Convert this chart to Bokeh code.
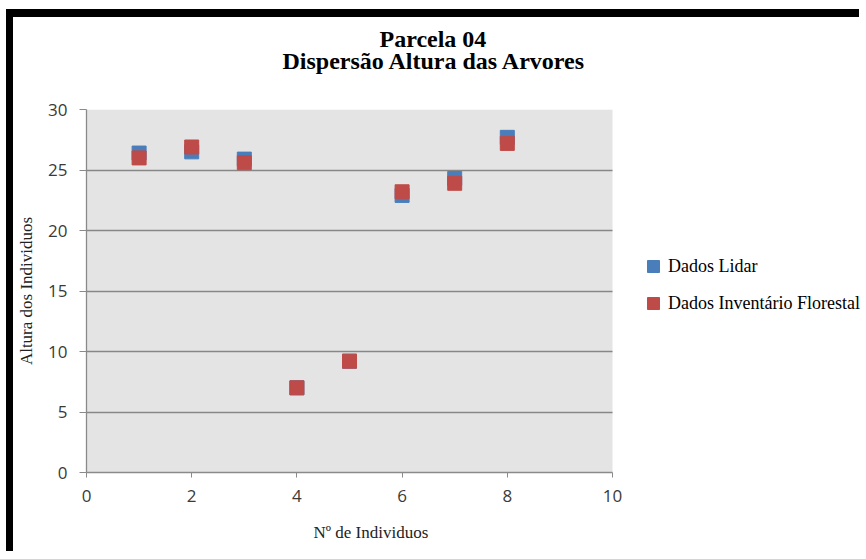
from bokeh.plotting import figure
from bokeh.models import Range1d, FixedTicker, Legend, LegendItem, Title, BoxAnnotation
from bokeh.embed import file_html
from bokeh.resources import INLINE

# Tree heights per individual in plot 04
individuos = [1, 2, 3, 4, 5, 6, 7, 8]
altura_lidar = [26.4, 26.5, 25.9, 7.0, 9.2, 22.9, 24.3, 27.7]
altura_inventario = [26.0, 26.9, 25.6, 7.0, 9.2, 23.2, 23.9, 27.2]

x_ticks = [0, 2, 4, 6, 8, 10]
y_ticks = [0, 5, 10, 15, 20, 25, 30]

titulo_1 = "Parcela 04"
titulo_2 = "Dispersão Altura das Arvores"
rotulo_x = "Nº de Individuos"
rotulo_y = "Altura dos Individuos"
serie_lidar = "Dados Lidar"
serie_inventario = "Dados Inventário Florestal"

SERIF = "Liberation Serif"
SANS = "Open Sans"

# Canvas geometry: the data frame runs to the right edge so the legend
# can sit beside the shaded plotting area.
W, H = 853, 542
BORDER_L, BORDER_T, BORDER_B = 73, 92, 87
PLOT_W = 526                      # width of the shaded area in pixels
FRAME_W = W - BORDER_L
x_end = x_ticks[-1] * FRAME_W / PLOT_W

p = figure(
    width=W, height=H,
    x_range=Range1d(x_ticks[0], x_end), y_range=Range1d(y_ticks[0], y_ticks[-1]),
    output_backend="svg", toolbar_location=None,
    min_border_left=BORDER_L, min_border_right=0,
    min_border_top=BORDER_T, min_border_bottom=BORDER_B,
)
# thick black frame on the top and left edges of the chart area
p.styles = {
    "margin": "9px 0 0 6px",
    "border-top": "8px solid black",
    "border-left": "7px solid black",
}

p.background_fill_color = "white"
p.border_fill_color = "white"
p.outline_line_color = None

# shaded plotting area
p.add_layout(BoxAnnotation(left=x_ticks[0], right=x_ticks[-1],
                           bottom=y_ticks[0], top=y_ticks[-1],
                           fill_color="#e4e4e4", fill_alpha=1,
                           line_color=None, level="image"))

p.xgrid.grid_line_color = None
ygrid = p.ygrid[0]
ygrid.grid_line_color = "#878787"
ygrid.grid_line_width = 1.3
ygrid.cross_bounds = (x_ticks[0], x_ticks[-1])

p.xaxis.ticker = FixedTicker(ticks=x_ticks)
p.yaxis.ticker = FixedTicker(ticks=y_ticks)
p.xaxis.bounds = (x_ticks[0], x_ticks[-1])
for ax in (p.xaxis[0], p.yaxis[0]):
    ax.axis_line_color = "#8a8a8a"
    ax.axis_line_width = 1.3
    ax.major_tick_line_color = "#8a8a8a"
    ax.major_tick_in = 0
    ax.minor_tick_line_color = None
    ax.major_label_text_font = SANS
    ax.major_label_text_font_size = "17px"
    ax.major_label_text_color = "#3a3a3a"
p.xaxis.major_tick_out = 5
p.yaxis.major_tick_out = 7
p.xaxis.major_label_standoff = 12
p.yaxis.major_label_standoff = 12

p.yaxis.axis_label = rotulo_y
p.yaxis.axis_label_text_font = SERIF
p.yaxis.axis_label_text_font_size = "17px"
p.yaxis.axis_label_text_font_style = "normal"
p.yaxis.axis_label_text_color = "#222222"
p.yaxis.axis_label_standoff = 9

r_lidar = p.scatter(individuos, altura_lidar, marker="square", size=14,
                    fill_color="#4a7ebb", line_color="#4a7ebb")
r_inv = p.scatter(individuos, altura_inventario, marker="square", size=14,
                  fill_color="#be4b48", line_color="#be4b48")

legend = Legend(
    items=[LegendItem(label=serie_lidar, renderers=[r_lidar]),
           LegendItem(label=serie_inventario, renderers=[r_inv])],
    location=(552, 154),
    glyph_width=30, glyph_height=30, spacing=7,
    label_standoff=0, padding=0, margin=0,
    border_line_color=None, background_fill_alpha=0,
    label_text_font=SERIF, label_text_font_size="18px",
    label_text_color="black",
)
p.add_layout(legend)

# Title block: a spacer next to the frame, then the two title lines
p.add_layout(Title(text=" ", text_font_size="1px", standoff=36), "above")
title_style = dict(text_font=SERIF, text_font_size="24px",
                   text_font_style="bold", text_color="black",
                   align="left", vertical_align="bottom", standoff=-6)
p.add_layout(Title(text=titulo_2, offset=196, **title_style), "above")
p.add_layout(Title(text=titulo_1, offset=293, **title_style), "above")

# x-axis caption under the tick labels
p.add_layout(Title(text=rotulo_x, text_font=SERIF, text_font_size="17px",
                   text_font_style="normal", text_color="#222222",
                   align="left", offset=227, vertical_align="bottom",
                   standoff=32), "below")

open("out.html", "w").write(file_html(p, INLINE))
